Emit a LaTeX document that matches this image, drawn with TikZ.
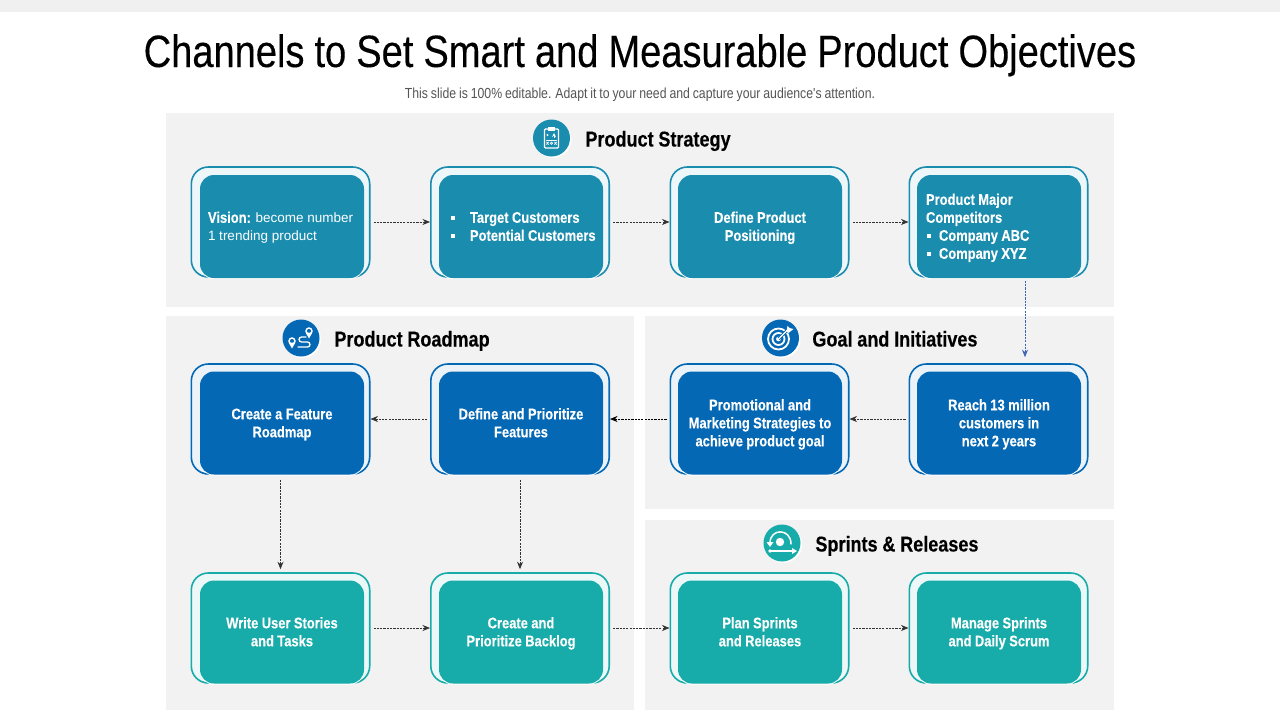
\documentclass[tikz,border=0pt]{standalone}
\usepackage{fontspec}
\setmainfont{Liberation Sans}
\newfontfamily\narrowfont[FakeStretch=0.84,WordSpace=0.85]{Liberation Sans}
\newfontfamily\titlefont[FakeStretch=0.84,WordSpace=0.95,FakeBold=0.25]{Liberation Sans}
\usetikzlibrary{positioning,shadows,arrows.meta}
\definecolor{panelgrey}{HTML}{F2F2F2}
\definecolor{stripgrey}{HTML}{F0F0F0}
\definecolor{subgrey}{HTML}{555555}
\definecolor{stratblue}{HTML}{1A8CAE}
\definecolor{roadblue}{HTML}{0468B4}
\definecolor{sprintteal}{HTML}{17ABA9}
\definecolor{flowgrey}{HTML}{333333}
\definecolor{dropblue}{HTML}{3F66B5}
\tikzset{
    cardframe/.style={draw=#1,line width=1.6pt,fill=#1!8!white,rounded corners=17pt,minimum width=178.4pt,minimum height=110pt,inner sep=0pt},
    cardbody/.style={fill=#1,rounded corners=14pt,minimum width=164pt,minimum height=103pt,inner sep=8pt,text=white,text width=148pt,align=flush center,
        font=\titlefont\bfseries\fontsize{15.4}{18}\selectfont,
        execute at begin node={\rule{0pt}{14pt}},execute at end node={\rule[-3.4pt]{0pt}{3.4pt}},
        drop shadow={fill=white,opacity=.95,shadow xshift=0pt,shadow yshift=-1.2pt}},
    cardlist/.style={align=flush left},
    flow/.style={draw=flowgrey,line width=.7pt,dash pattern=on 2.2pt off 1.1pt,-{Stealth[length=7.5pt,width=6pt]},shorten <=3pt,shorten >=0pt},
    icondisc/.style={circle,fill=#1,minimum size=37pt,inner sep=0pt,
        drop shadow={fill=white,opacity=1,shadow xshift=1.5pt,shadow yshift=-1.5pt}},
    heading/.style={font=\titlefont\bfseries\fontsize{21.5}{24}\selectfont,inner sep=0pt,text height=17pt,text depth=0pt},
    iconline/.style={draw=white,line width=1.3pt,line cap=round}
}
\newcommand{\listmark}[1]{\hspace*{#1}\rule[3pt]{4pt}{4pt}}
\newcommand{\plainpart}{\rmfamily\mdseries\fontsize{13.5}{18}\selectfont}
\begin{document}
\begin{tikzpicture}[x=1pt,y=-1pt]
    \useasboundingbox[fill=white] (0,0) rectangle (1280,720);
    \fill[stripgrey] (0,0) rectangle (1280,12);
    % panels
    \fill[panelgrey] (166,113) rectangle (1114,307);
    \fill[panelgrey] (166,316) rectangle (634,710);
    \fill[panelgrey] (645,316) rectangle (1114,509);
    \fill[panelgrey] (645,520) rectangle (1114,710);
    % title
    \node[anchor=base,inner sep=0pt,font=\titlefont\fontsize{45.3}{48}\selectfont] (title) at (640,67) {Channels to Set Smart and Measurable Product Objectives};
    \node[anchor=base,inner sep=0pt,text=subgrey,font=\narrowfont\fontsize{14.6}{16}\selectfont] (subtitle) at (640,98) {This slide is 100\% editable. Adapt it to your need and capture your audience's attention.};
    % section headings
    \node[icondisc=stratblue] (iconstrategy) at (551.5,138) {};
    \node[heading,right=15pt of iconstrategy] (strategy) {Product Strategy};
    \node[icondisc=roadblue] (iconroadmap) at (301,338) {};
    \node[heading,right=14.5pt of iconroadmap] (roadmap) {Product Roadmap};
    \node[icondisc=roadblue] (icongoal) at (780.5,338) {};
    \node[heading,right=13pt of icongoal] (goal) {Goal and Initiatives};
    \node[icondisc=sprintteal] (iconsprint) at (782,543) {};
    \node[heading,right=14.5pt of iconsprint] (sprint) {Sprints \& Releases};
    % clipboard icon
    \begin{scope}[shift={(iconstrategy.center)}]
        \draw[iconline,line width=1.1pt,rounded corners=1pt] (-7,-9) rectangle (7,10);
        \fill[white] (-3.5,-11) rectangle (3.5,-7);
        \fill[white] (-4,-3) circle[radius=1.1];
        \draw[white,line width=.8pt,->,>=stealth] (2.5,0) -- (2.5,-5);
        \draw[iconline,line width=.7pt] (-5,2) -- (5,2);
        \draw[iconline,line width=.7pt] (-5,4) -- (-3,6.5) (-3,4) -- (-5,6.5) (3,4) -- (5,6.5) (5,4) -- (3,6.5);
        \draw[iconline,line width=.7pt] (0,5.2) circle[radius=1.2];
    \end{scope}
    % route icon
    \begin{scope}[shift={(iconroadmap.center)}]
        \draw[iconline,line width=1.4pt] (-9,3) circle[radius=3];
        \fill[white] (-12.4,4.5) -- (-9,10.5) -- (-5.6,4.5) -- cycle;
        \fill[roadblue] (-9,3) circle[radius=1.3];
        \draw[iconline,line width=1.4pt] (8,-7) circle[radius=3];
        \fill[white] (4.6,-5.5) -- (8,.5) -- (11.4,-5.5) -- cycle;
        \fill[roadblue] (8,-7) circle[radius=1.3];
        \draw[iconline,rounded corners=2.5pt] (5,-1) -- (-2,-1) -- (-2,4) -- (9,4) -- (9,9) -- (-3,9);
    \end{scope}
    % target icon
    \begin{scope}[shift={(icongoal.center)}]
        \draw[iconline,line width=1.8pt] (-2,1) circle[radius=10.5];
        \draw[iconline,line width=1.8pt] (-2,1) circle[radius=6];
        \fill[white] (-2,1) circle[radius=2.4];
        \draw[draw=roadblue,line width=3pt] (-2,1) -- (8,-9);
        \draw[iconline] (-2,1) -- (8,-9);
        \fill[white] (6,-7) -- (7,-12) -- (9,-10) -- (13,-9) -- (8,-5) -- cycle;
    \end{scope}
    % sprint icon
    \begin{scope}[shift={(iconsprint.center)}]
        \draw[iconline,line width=1.5pt] (-12,0) .. controls (-12,-15) and (9,-15) .. (9,1);
        \fill[white] (-15.5,-1) -- (-8.5,-1) -- (-12,4) -- cycle;
        \fill[white] (-2,-1) circle[radius=4.2];
        \draw[iconline] (-12,8) -- (12,8);
        \fill[white] (10,5) -- (15,8) -- (10,11) -- cycle;
        \fill[white] (-12,8) circle[radius=1.8];
    \end{scope}
    % first row
    \node[cardframe=stratblue] (visionframe) at (280.5,222) {};
    \node[cardbody=stratblue,cardlist] (vision) at (282,226.5) {\mbox{Vision: {\plainpart become number}}\\{\plainpart 1 trending product}};
    \node[cardframe=stratblue] (customersframe) at (520,222) {};
    \node[cardbody=stratblue,cardlist] (customers) at (521,226.5) {\mbox{\listmark{4pt}\hspace{15pt}Target Customers}\\\mbox{\listmark{4pt}\hspace{15pt}Potential Customers}};
    \node[cardframe=stratblue] (positioningframe) at (759.5,222) {};
    \node[cardbody=stratblue] (positioning) at (760,226.5) {Define Product\\Positioning};
    \node[cardframe=stratblue] (competitorsframe) at (998.5,222) {};
    \node[cardbody=stratblue,cardlist] (competitors) at (999,226.5) {\hspace*{1pt}Product Major\\\hspace*{1pt}Competitors\\\listmark{2pt}\hspace{8pt}Company ABC\\\listmark{2pt}\hspace{8pt}Company XYZ};
    % second row
    \node[cardframe=roadblue] (featureframe) at (280.5,419) {};
    \node[cardbody=roadblue] (feature) at (282,423) {Create a Feature\\Roadmap};
    \node[cardframe=roadblue] (prioritizeframe) at (520,419) {};
    \node[cardbody=roadblue] (prioritize) at (521,423) {Define and Prioritize\\Features};
    \node[cardframe=roadblue] (promotionframe) at (759.5,419) {};
    \node[cardbody=roadblue] (promotion) at (760,423) {\mbox{Promotional and}\\\mbox{Marketing Strategies to}\\\mbox{achieve product goal}};
    \node[cardframe=roadblue] (reachframe) at (998.5,419) {};
    \node[cardbody=roadblue] (reach) at (999,423) {Reach 13 million\\customers in\\next 2 years};
    % third row
    \node[cardframe=sprintteal] (storiesframe) at (280.5,628) {};
    \node[cardbody=sprintteal] (stories) at (282,632) {Write User Stories\\and Tasks};
    \node[cardframe=sprintteal] (backlogframe) at (520,628) {};
    \node[cardbody=sprintteal] (backlog) at (521,632) {Create and\\Prioritize Backlog};
    \node[cardframe=sprintteal] (planframe) at (759.5,628) {};
    \node[cardbody=sprintteal] (plan) at (760,632) {Plan Sprints\\and Releases};
    \node[cardframe=sprintteal] (manageframe) at (998.5,628) {};
    \node[cardbody=sprintteal] (manage) at (999,632) {Manage Sprints\\and Daily Scrum};
    % connectors
    \draw[flow] (visionframe) -- (customersframe);
    \draw[flow] (customersframe) -- (positioningframe);
    \draw[flow] (positioningframe) -- (competitorsframe);
    \draw[flow,draw=dropblue,shorten >=6pt] ([xshift=26.5pt]competitorsframe.south) -- ([xshift=26.5pt]reachframe.north);
    \draw[flow] (reachframe) -- (promotionframe);
    \draw[flow,draw=black] (promotionframe) -- (prioritizeframe);
    \draw[flow] (prioritizeframe) -- (featureframe);
    \draw[flow,shorten <=5pt,shorten >=3pt] (featureframe) -- (storiesframe);
    \draw[flow,shorten <=5pt,shorten >=3pt] (prioritizeframe) -- (backlogframe);
    \draw[flow] (storiesframe) -- (backlogframe);
    \draw[flow] (backlogframe) -- (planframe);
    \draw[flow] (planframe) -- (manageframe);
\end{tikzpicture}
\end{document}
